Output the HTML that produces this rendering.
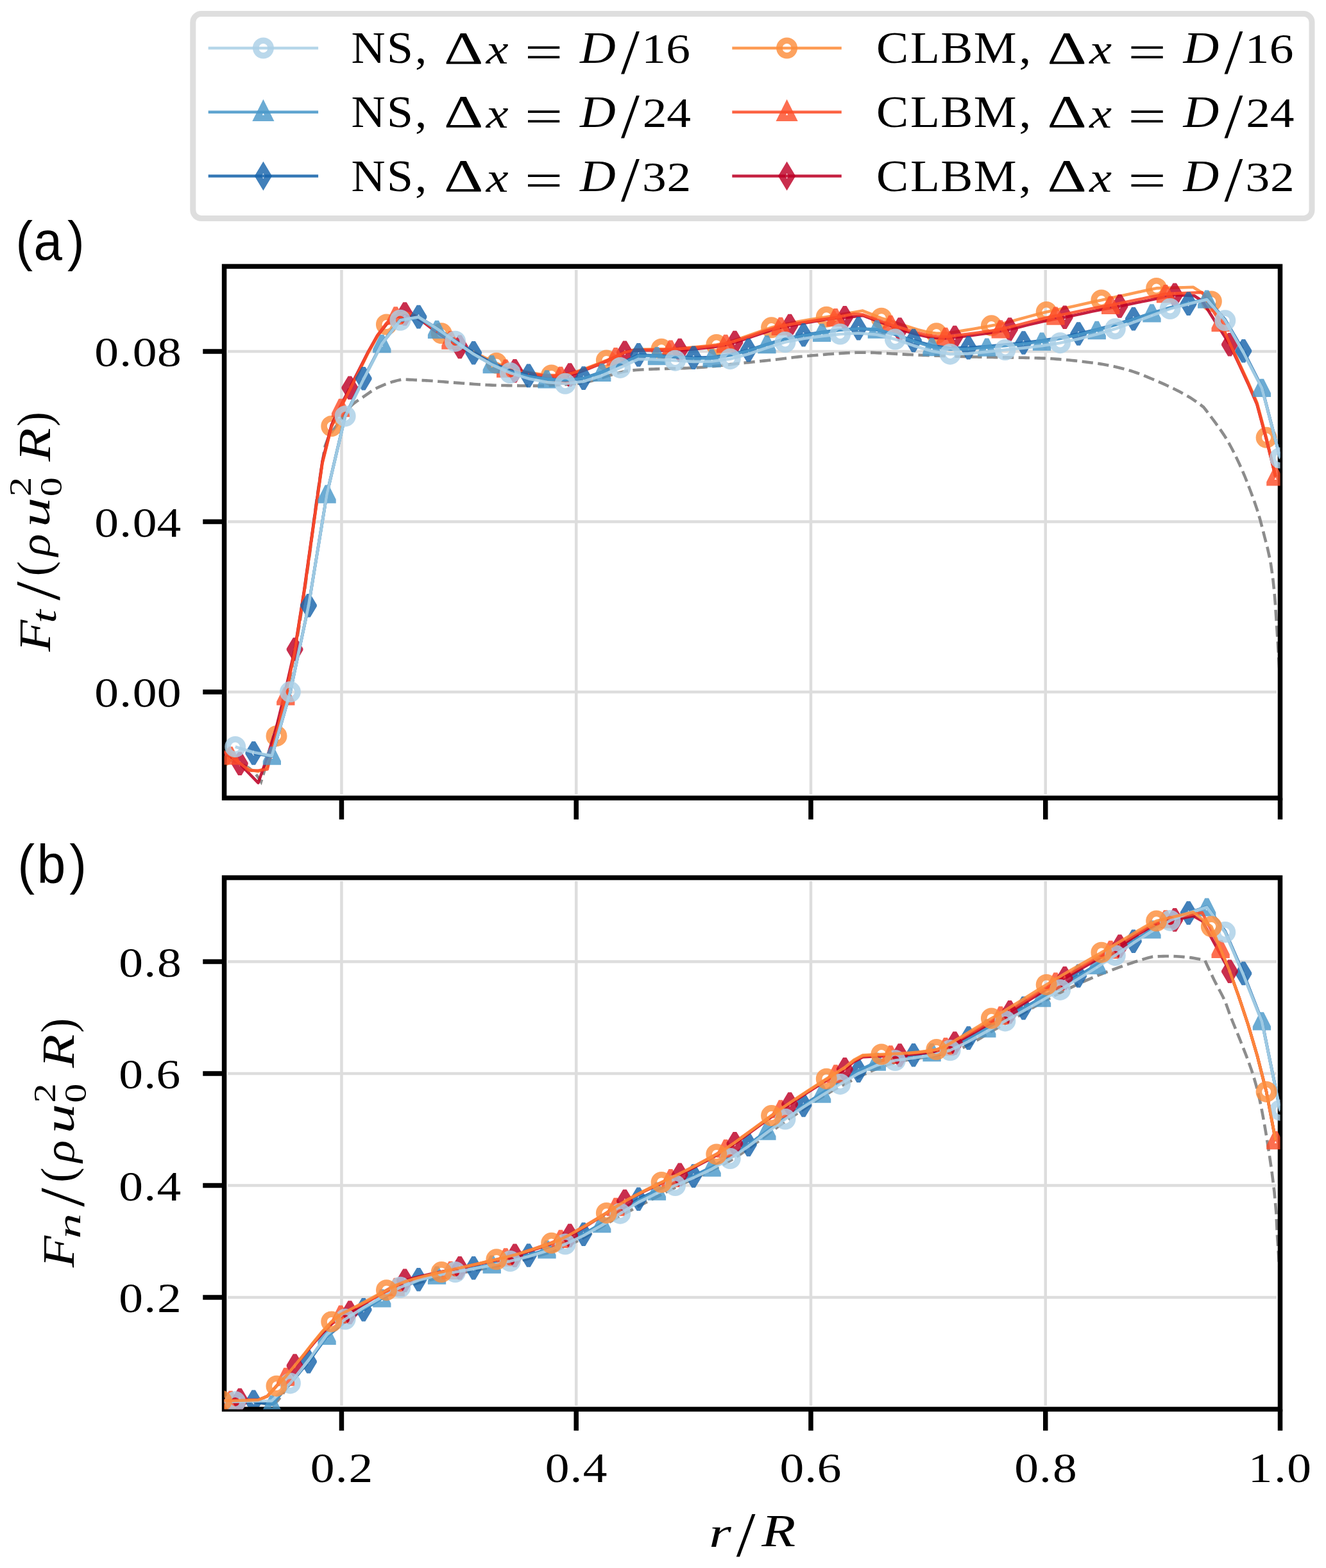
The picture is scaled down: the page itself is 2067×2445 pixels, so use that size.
<!DOCTYPE html>
<html lang="en"><head><meta charset="utf-8"><title>Blade force distributions</title><style>html,body{margin:0;padding:0;background:#fff}svg{display:block}</style></head>
<body>
<svg width="2067" height="2445" viewBox="0 0 2067 2445">
<defs><path id="mo" d="M-16.48 0A16.48 16.48 0 1 0 16.48 0A16.48 16.48 0 1 0 -16.48 0ZM-6.92 0A6.92 6.92 0 1 1 6.92 0A6.92 6.92 0 1 1 -6.92 0Z"/><path id="mt" d="M-2.95 -14.15L2.95 -14.15L14.15 8.25L14.15 14.15L-14.15 14.15L-14.15 8.25ZM0 1.3L-1.65 4.6L1.65 4.6Z"/><path id="md" d="M-2.7 -18.28L2.7 -18.28L12.88 -1.32L12.88 1.32L2.7 18.28L-2.7 18.28L-12.88 1.32L-12.88 -1.32ZM0 -4.22L-2.53 0L0 4.22L2.53 0Z"/><path id="lt" d="M0 -20.05L17.1 14.15L-17.1 14.15ZM0 1.3L-1.65 4.6L1.65 4.6Z"/><path id="ld" d="M0 -22.79L13.67 0L0 22.79L-13.67 0ZM0 -4.22L-2.53 0L0 4.22L2.53 0Z"/><clipPath id="ca"><rect x="349.57" y="415.4" width="1645.93" height="828.95"/></clipPath><clipPath id="cb"><rect x="349.57" y="1368.6" width="1645.93" height="828.8"/></clipPath></defs>
<rect width="2067" height="2445" fill="#fff"/>
<rect x="300.8" y="21.5" width="1744.2" height="319.1" rx="13" ry="13" fill="#fff" stroke="#dedede" stroke-width="9"/>
<path d="M324.7 75.0H496.1" stroke="#abd0e6" stroke-width="4.6" stroke-opacity="0.88"/>
<use href="#mo" x="410.4" y="75" fill="#abd0e6" fill-opacity="0.82" fill-rule="evenodd"/>
<text transform="translate(0 98.25) scale(0.7357 0.6920)" x="744.21 819.51 879.35" y="0" font-family="'Liberation Serif','DejaVu Serif',serif" font-size="100">NS,</text>
<text transform="translate(692.08 98.55) scale(0.9540 0.7252)" font-family="'Liberation Serif','DejaVu Serif',serif" font-size="100">Δ</text>
<text transform="translate(757.78 99.35) scale(0.7843 0.6593)" font-family="'Liberation Serif','DejaVu Serif',serif" font-size="100" font-style="italic">x</text>
<text transform="translate(817.71 106.16) scale(1.0581 0.7320)" font-family="'Liberation Serif','DejaVu Serif',serif" font-size="100">=</text>
<text transform="translate(903.97 98.25) scale(0.7720 0.6870)" font-family="'Liberation Serif','DejaVu Serif',serif" font-size="100" font-style="italic">D</text>
<text transform="translate(967.9 113.86) scale(1.0400 0.9910)" font-family="'Liberation Serif','DejaVu Serif',serif" font-size="100">/</text>
<text transform="translate(0 98.25) scale(0.7550 0.6640)" x="1324.76 1375.18" y="0" font-family="'Liberation Serif','DejaVu Serif',serif" font-size="100">16</text>
<path d="M324.7 174.8H496.1" stroke="#4a98c9" stroke-width="4.6" stroke-opacity="0.88"/>
<use href="#lt" x="410.4" y="174.8" fill="#4a98c9" fill-opacity="0.82" fill-rule="evenodd"/>
<text transform="translate(0 198.05) scale(0.7357 0.6920)" x="744.21 819.51 879.35" y="0" font-family="'Liberation Serif','DejaVu Serif',serif" font-size="100">NS,</text>
<text transform="translate(692.08 198.35) scale(0.9540 0.7252)" font-family="'Liberation Serif','DejaVu Serif',serif" font-size="100">Δ</text>
<text transform="translate(757.78 199.15) scale(0.7843 0.6593)" font-family="'Liberation Serif','DejaVu Serif',serif" font-size="100" font-style="italic">x</text>
<text transform="translate(817.71 205.96) scale(1.0581 0.7320)" font-family="'Liberation Serif','DejaVu Serif',serif" font-size="100">=</text>
<text transform="translate(903.97 198.05) scale(0.7720 0.6870)" font-family="'Liberation Serif','DejaVu Serif',serif" font-size="100" font-style="italic">D</text>
<text transform="translate(967.9 213.66) scale(1.0400 0.9910)" font-family="'Liberation Serif','DejaVu Serif',serif" font-size="100">/</text>
<text transform="translate(0 198.05) scale(0.7550 0.6640)" x="1326.76 1376.41" y="0" font-family="'Liberation Serif','DejaVu Serif',serif" font-size="100">24</text>
<path d="M324.7 274.5H496.1" stroke="#1764ab" stroke-width="4.6" stroke-opacity="0.88"/>
<use href="#ld" x="410.4" y="274.5" fill="#1764ab" fill-opacity="0.82" fill-rule="evenodd"/>
<text transform="translate(0 297.75) scale(0.7357 0.6920)" x="744.21 819.51 879.35" y="0" font-family="'Liberation Serif','DejaVu Serif',serif" font-size="100">NS,</text>
<text transform="translate(692.08 298.05) scale(0.9540 0.7252)" font-family="'Liberation Serif','DejaVu Serif',serif" font-size="100">Δ</text>
<text transform="translate(757.78 298.85) scale(0.7843 0.6593)" font-family="'Liberation Serif','DejaVu Serif',serif" font-size="100" font-style="italic">x</text>
<text transform="translate(817.71 305.66) scale(1.0581 0.7320)" font-family="'Liberation Serif','DejaVu Serif',serif" font-size="100">=</text>
<text transform="translate(903.97 297.75) scale(0.7720 0.6870)" font-family="'Liberation Serif','DejaVu Serif',serif" font-size="100" font-style="italic">D</text>
<text transform="translate(967.9 313.36) scale(1.0400 0.9910)" font-family="'Liberation Serif','DejaVu Serif',serif" font-size="100">/</text>
<text transform="translate(0 297.75) scale(0.7550 0.6640)" x="1325.89 1376.96" y="0" font-family="'Liberation Serif','DejaVu Serif',serif" font-size="100">32</text>
<path d="M1141.3 75.0H1311.8" stroke="#fd8d3c" stroke-width="4.6" stroke-opacity="0.88"/>
<use href="#mo" x="1226.6" y="75" fill="#fd8d3c" fill-opacity="0.82" fill-rule="evenodd"/>
<text transform="translate(0 98.25) scale(0.7522 0.6920)" x="1816.16 1886.54 1949.44 2017.88 2111.75" y="0" font-family="'Liberation Serif','DejaVu Serif',serif" font-size="100">CLBM,</text>
<text transform="translate(1632.58 98.55) scale(0.9540 0.7252)" font-family="'Liberation Serif','DejaVu Serif',serif" font-size="100">Δ</text>
<text transform="translate(1698.28 99.35) scale(0.7843 0.6593)" font-family="'Liberation Serif','DejaVu Serif',serif" font-size="100" font-style="italic">x</text>
<text transform="translate(1758.21 106.16) scale(1.0581 0.7320)" font-family="'Liberation Serif','DejaVu Serif',serif" font-size="100">=</text>
<text transform="translate(1844.47 98.25) scale(0.7720 0.6870)" font-family="'Liberation Serif','DejaVu Serif',serif" font-size="100" font-style="italic">D</text>
<text transform="translate(1908.4 113.86) scale(1.0400 0.9910)" font-family="'Liberation Serif','DejaVu Serif',serif" font-size="100">/</text>
<text transform="translate(0 98.25) scale(0.7550 0.6640)" x="2570.45 2620.87" y="0" font-family="'Liberation Serif','DejaVu Serif',serif" font-size="100">16</text>
<path d="M1141.3 174.8H1311.8" stroke="#fc4e2a" stroke-width="4.6" stroke-opacity="0.88"/>
<use href="#lt" x="1226.6" y="174.8" fill="#fc4e2a" fill-opacity="0.82" fill-rule="evenodd"/>
<text transform="translate(0 198.05) scale(0.7522 0.6920)" x="1816.16 1886.54 1949.44 2017.88 2111.75" y="0" font-family="'Liberation Serif','DejaVu Serif',serif" font-size="100">CLBM,</text>
<text transform="translate(1632.58 198.35) scale(0.9540 0.7252)" font-family="'Liberation Serif','DejaVu Serif',serif" font-size="100">Δ</text>
<text transform="translate(1698.28 199.15) scale(0.7843 0.6593)" font-family="'Liberation Serif','DejaVu Serif',serif" font-size="100" font-style="italic">x</text>
<text transform="translate(1758.21 205.96) scale(1.0581 0.7320)" font-family="'Liberation Serif','DejaVu Serif',serif" font-size="100">=</text>
<text transform="translate(1844.47 198.05) scale(0.7720 0.6870)" font-family="'Liberation Serif','DejaVu Serif',serif" font-size="100" font-style="italic">D</text>
<text transform="translate(1908.4 213.66) scale(1.0400 0.9910)" font-family="'Liberation Serif','DejaVu Serif',serif" font-size="100">/</text>
<text transform="translate(0 198.05) scale(0.7550 0.6640)" x="2572.45 2622.1" y="0" font-family="'Liberation Serif','DejaVu Serif',serif" font-size="100">24</text>
<path d="M1141.3 274.5H1311.8" stroke="#bd0026" stroke-width="4.6" stroke-opacity="0.88"/>
<use href="#ld" x="1226.6" y="274.5" fill="#bd0026" fill-opacity="0.82" fill-rule="evenodd"/>
<text transform="translate(0 297.75) scale(0.7522 0.6920)" x="1816.16 1886.54 1949.44 2017.88 2111.75" y="0" font-family="'Liberation Serif','DejaVu Serif',serif" font-size="100">CLBM,</text>
<text transform="translate(1632.58 298.05) scale(0.9540 0.7252)" font-family="'Liberation Serif','DejaVu Serif',serif" font-size="100">Δ</text>
<text transform="translate(1698.28 298.85) scale(0.7843 0.6593)" font-family="'Liberation Serif','DejaVu Serif',serif" font-size="100" font-style="italic">x</text>
<text transform="translate(1758.21 305.66) scale(1.0581 0.7320)" font-family="'Liberation Serif','DejaVu Serif',serif" font-size="100">=</text>
<text transform="translate(1844.47 297.75) scale(0.7720 0.6870)" font-family="'Liberation Serif','DejaVu Serif',serif" font-size="100" font-style="italic">D</text>
<text transform="translate(1908.4 313.36) scale(1.0400 0.9910)" font-family="'Liberation Serif','DejaVu Serif',serif" font-size="100">/</text>
<text transform="translate(0 297.75) scale(0.7550 0.6640)" x="2571.59 2622.65" y="0" font-family="'Liberation Serif','DejaVu Serif',serif" font-size="100">32</text>
<path d="M532.45 420.9V1238.85M898.22 420.9V1238.85M1263.98 420.9V1238.85M1629.75 420.9V1238.85M355.07 548.12H1990M355.07 813.56H1990M355.07 1079H1990" stroke="#dddddd" stroke-width="4.5" fill="none"/>
<g clip-path="url(#ca)"><path d="M349 1182L353 1183L357 1184.16L361 1185.46L365 1186.88L369 1188.4L373 1190L377 1191.69L381 1193.57L385 1195.76L387 1197L389 1198.39L393 1201.67L397 1205.57L400.8 1209.8L401 1210.04L405 1215.74L407 1219L411 1205.86L412.7 1200L415 1191.65L419 1176.26L423 1160.72L426.6 1147.5L427 1146.11L431 1133.18L435 1121.15L439 1108.9L443 1095.29L444.4 1090L447 1079.34L451 1061.12L455 1041.09L459 1019.68L460.3 1012.5L463 997.03L467 972.57L471 946.56L475 919.32L479 891.19L482 869.7L483 862.34L487 830.82L491 798.89L493 784L495 769.98L499 743.29L503 717.87L503.3 716L506.7 695.6L507 694.67L511 684.35L515 676.97L519 671.26L523 665.93L525 663L527 659.98L531 654.3L535 648.94L538 645L539 643.67L543 638.25L547 633.26L549.2 631L551 629.42L555 626.34L559 623.65L563 621.11L566.2 619L567 618.45L571 615.63L575 612.77L579 610.02L583 607.49L586.6 605.5L587 605.3L591 603.36L595 601.55L599 599.87L603 598.32L607 596.9L611 595.6L612 595.3L615 594.43L619 593.36L623 592.41L626.9 591.6L630.9 591.75L634.9 591.92L638.9 592.09L642.9 592.27L646.9 592.47L650.9 592.67L654.9 592.88L658.9 593.09L662.9 593.32L664.3 593.4L666.9 593.56L670.9 593.81L674.9 594.09L678.9 594.38L682.9 594.69L686.9 595L690.9 595.32L694.9 595.64L698.9 595.96L702.9 596.27L706.9 596.58L710.9 596.87L714.2 597.1L714.9 597.15L718.9 597.43L722.9 597.72L726.9 598.02L730.9 598.32L734.9 598.62L738.9 598.92L742.9 599.21L746.9 599.49L750.9 599.75L754.9 600L758.9 600.22L762.9 600.42L766.9 600.59L770.9 600.72L774 600.8L774.9 600.82L778.9 600.9L782.9 600.99L786.9 601.07L790.9 601.14L794.9 601.21L798.9 601.28L802.9 601.34L806.9 601.4L810.9 601.45L814.9 601.49L818.9 601.53L822.9 601.56L826.9 601.58L830.9 601.6L834.8 601.6L834.9 601.6L838.9 601.58L842.9 601.52L846.9 601.43L850.9 601.31L854.9 601.16L858.9 600.98L862.9 600.77L866.9 600.54L870.9 600.29L874.9 600.02L878.9 599.73L882.9 599.43L886.9 599.11L890.9 598.78L894.9 598.44L898.9 598.1L900 598" fill="none" stroke="#808080" stroke-width="4.6" stroke-dasharray="17.3 7.5" stroke-dashoffset="-7.64" stroke-opacity="0.9" stroke-linejoin="miter"/>
<path d="M900 598L902.9 597.7L906.9 597.15L910.9 596.46L914.9 595.65L918.9 594.72L922.9 593.69L926.9 592.58L930.9 591.42L934.9 590.2L938.9 588.95L942.9 587.69L946.9 586.43L950.9 585.19L954.9 583.97L958.9 582.81L962.9 581.71L966.9 580.7L970.9 579.78L974.9 578.97L978.9 578.3L982.9 577.77L984.5 577.6L986.9 577.38L990.9 577.04L994.9 576.74L998.9 576.47L1002.9 576.23L1006.9 576.02L1009.4 575.9L1010.9 575.83L1014.9 575.66L1018.9 575.5L1022.9 575.35L1026.9 575.22L1030.9 575.1L1034.9 574.99L1038.9 574.88L1042.9 574.78L1046.9 574.67L1050.9 574.57L1054.9 574.46L1058.9 574.35L1062.9 574.23L1066.9 574.11L1070.9 573.97L1074.9 573.82L1078.9 573.65L1082.9 573.47L1084.3 573.4L1086.9 573.26L1090.9 573.01L1094.9 572.73L1098.9 572.41L1102.9 572.07L1106.9 571.69L1110.9 571.3L1114.9 570.88L1118.9 570.44L1122.9 570L1126.9 569.54L1130.9 569.07L1134.9 568.61L1138.9 568.14L1142.9 567.68L1146.9 567.22L1150.9 566.77L1154.9 566.34L1158.9 565.92L1159.1 565.9L1162.9 565.51L1166.9 565.11L1170.9 564.71L1174.9 564.3L1178.9 563.89L1182.9 563.49L1186.9 563.07L1190.9 562.66L1194.9 562.24L1198.9 561.82L1200 561.7L1202.9 561.38L1206.9 560.93L1210.9 560.46L1214.9 559.98L1218.9 559.5L1222.9 559L1226.9 558.51L1230.9 558.02L1234.9 557.54L1238.9 557.06L1242.9 556.6L1246.9 556.16L1250.9 555.74L1254.9 555.35L1258.9 554.98L1262.3 554.7L1262.9 554.65L1266.9 554.33L1270.9 554L1274.9 553.66L1278.9 553.33L1282.9 552.99L1286.9 552.66L1290.9 552.33L1294.9 552.02L1298.9 551.71L1302.9 551.42L1306.9 551.14L1310.9 550.88L1314.9 550.64L1318.9 550.42L1322.9 550.22L1326.9 550.06L1330.9 549.92L1334.9 549.81L1338.9 549.74L1342.9 549.7L1344.6 549.7L1346.9 549.71L1350.9 549.74L1354.9 549.81L1358.9 549.91L1362.9 550.04L1366.9 550.19L1370.9 550.36L1374.9 550.55L1378.9 550.75L1382.9 550.97L1386.9 551.2L1390.9 551.43L1394.9 551.67L1398.9 551.91L1402.9 552.15L1406.9 552.38L1410.9 552.61L1414.9 552.83L1418.9 553.04L1422.9 553.23L1426.9 553.4L1429.4 553.5L1430.9 553.56L1434.9 553.71L1438.9 553.85L1442.9 554L1446.9 554.15L1450.9 554.29L1454.9 554.44L1458.9 554.58L1462.9 554.72L1466.9 554.86L1470.9 554.99L1474.9 555.13L1478.9 555.26" fill="none" stroke="#808080" stroke-width="4.6" stroke-dasharray="17.3 7.5" stroke-dashoffset="-14.62" stroke-opacity="0.9" stroke-linejoin="miter"/>
<path d="M1482.9 555.39L1486.9 555.52L1490.9 555.65L1494.9 555.77L1498.9 555.89L1502.9 556.01L1506.9 556.12L1510.9 556.23L1514.9 556.34L1518.9 556.45L1522.9 556.55L1526.9 556.65L1529.2 556.7L1530.9 556.74L1534.9 556.83L1538.9 556.91L1542.9 556.98L1546.9 557.05L1550.9 557.12L1554.9 557.18L1558.9 557.24L1562.9 557.3L1566.9 557.35L1570.9 557.41L1574.9 557.47L1578.9 557.53L1582.9 557.59L1586.9 557.65L1590.9 557.72L1594.9 557.79L1598.9 557.87L1602.9 557.95L1606.9 558.04L1610.9 558.14L1614.9 558.25L1618.9 558.37L1620 558.4L1622.9 558.5L1626.9 558.66L1630.9 558.84L1634.9 559.06L1638.9 559.29L1642.9 559.55L1646.9 559.84L1650.9 560.14L1654.9 560.47L1658.9 560.82L1662.9 561.19L1666.9 561.57L1670.9 561.97L1674.9 562.39L1678.9 562.82L1682.9 563.27L1686.9 563.73L1690.9 564.2L1694.9 564.68L1698.9 565.17L1702.9 565.67L1704.7 565.9L1706.9 566.19L1710.9 566.75L1714.9 567.37L1718.9 568.04L1722.9 568.75L1726.9 569.51L1730.9 570.32L1734.9 571.17L1738.9 572.06L1742.9 572.98L1746.9 573.95L1750.9 574.95L1754.6 575.9L1754.9 575.98L1758.9 577.09L1762.9 578.29L1766.9 579.59L1770.9 580.98L1774.9 582.43L1778.9 583.96L1782.9 585.53L1786.9 587.15L1790.9 588.81L1794.9 590.5L1798.9 592.2L1802.9 593.91L1804.5 594.6L1806.9 595.63L1810.9 597.38L1814.9 599.16L1818.9 600.98L1822.9 602.84L1826.9 604.75L1830.9 606.71L1834.9 608.73L1838.9 610.81L1842.9 612.95L1846.9 615.16L1850.9 617.44L1854.4 619.5L1854.9 619.8L1858.9 622.32L1862.9 625.02L1866.9 627.87L1870.9 630.83L1874.9 633.86L1876 634.7L1880 639.77L1884 644.95L1888 650.28L1890 653L1892 655.73L1896 661.18L1900 666.69L1904 672.39L1908 678.36L1912 684.73L1913 686.4L1916 691.6L1920 698.96L1924 706.77L1928 714.99L1932 723.55L1936 732.4L1940 741.76L1944 751.75L1948 762.2L1949.8 767L1952 772.91L1956 783.95L1960 795.85L1961.3 800L1964 809.24L1968 824.26L1970.9 835.7L1972 840L1976 855.4L1980 873.78L1980.8 878.2L1984 900.31L1986.5 923.5L1988 942.67L1989.9 971.7L1992 1004.39L1995.3 1060" fill="none" stroke="#808080" stroke-width="4.6" stroke-dasharray="17.3 7.5" stroke-dashoffset="-5.63" stroke-opacity="0.9" stroke-linejoin="miter"/>
<path d="M345.28 1180L345.28 1180L345.3 1180L359.57 1182L359.57 1182L359.6 1182L373.86 1189.98L373.86 1189.98L373.9 1190L388.15 1199.96L388.2 1200L402.43 1202.99L402.5 1203L416.72 1196.04L416.8 1196L431 1147.7L431.01 1147.7L445.3 1082.9L445.3 1082.9L459.59 1012.5L473.87 923.18L473.9 923L488.16 821.78L488.2 821.5L502.45 721.26L502.5 721L516.74 664.5L516.74 664.5L531.02 635.3L545.31 607.35L545.31 607.35L559.6 579.08L573.89 550.35L588.18 524.79L602.46 506L616.75 494.76L631.04 488.97L645.33 492.1L659.61 500.16L673.9 510.34L688.19 519.8L702.48 528.65L702.48 528.65L716.76 537.2L731.05 545.03L745.34 552.52L759.63 559.62L773.92 566.3L773.92 566.3L788.2 572.4L802.49 576.26L816.78 579.2L831.07 581.9L845.35 583.96L859.64 585L873.93 585.1L888.22 582.17L902.51 578.13L916.79 573.24L931.08 567.77L945.37 562L945.37 562L959.66 555.48L973.94 548.92L973.94 548.92L988.23 545.39L990 545.25L1002.52 544.78L1016.81 544.46L1031.09 544.2L1031.09 544.2L1045.38 544.01L1059.67 543.17L1073.96 542.08L1088.25 540.8L1102.53 539.28L1116.82 537.5L1131.11 534.76L1145.4 530.52L1159.68 525.75L1173.97 520.64L1188.26 515.55L1202.55 510.8L1202.55 510.8L1216.84 506.76L1231.12 503.88L1245.41 501.28L1259.7 498.81L1273.99 496.45L1288.27 494.2L1288.3 494.2L1302.56 491.78L1316.85 489.36L1331.14 486.93L1344.9 484.6L1345.43 484.81L1359.71 490.5L1374 496.2L1374 496.2L1388.29 500.38L1388.29 500.38L1402.58 505.33L1402.58 505.33L1416.86 509.79L1431.15 514.12L1445.44 517.68L1459.73 519.8L1474.01 519.9L1488.3 517.69L1502.59 515.36L1516.88 512.96L1531.17 510.45L1545.45 507.8L1559.74 505.14L1574.03 501.63L1588.32 497.84L1602.6 493.88L1616.89 489.99L1631.18 486.4L1645.47 483.4L1645.47 483.4L1659.76 480.54L1659.76 480.54L1674.04 477.42L1688.33 474.14L1702.62 470.89L1716.9 467.9L1716.91 467.9L1731.19 464.81L1745.48 461.73L1759.77 458.65L1774.06 455.56L1788.34 452.48L1802.6 449.4L1802.63 449.4L1816.92 449L1816.92 449L1831.21 448.6L1845.5 448.2L1859.78 447.8L1859.9 447.8L1874.07 456.77L1875.7 457.8L1888.3 469.9L1888.36 469.9L1888.36 469.9L1902.65 502.82L1916.93 534.56L1931.22 564.88L1945.2 594.89L1945.51 595.58L1959 626.76L1959.8 629.08L1974.09 682.3L1988.36 743.3" fill="none" stroke="#fd8d3c" stroke-width="4.6" stroke-opacity="0.88" stroke-linejoin="round"/>
<g fill="#fd8d3c" fill-opacity="0.82" fill-rule="evenodd"><use href="#mo" x="345.28" y="1180"/><use href="#mo" x="431.01" y="1147.7"/><use href="#mo" x="516.74" y="664.5"/><use href="#mo" x="602.46" y="506"/><use href="#mo" x="688.19" y="519.8"/><use href="#mo" x="773.92" y="566.3"/><use href="#mo" x="859.64" y="585"/><use href="#mo" x="945.37" y="562"/><use href="#mo" x="1031.09" y="544.2"/><use href="#mo" x="1116.82" y="537.5"/><use href="#mo" x="1202.55" y="510.8"/><use href="#mo" x="1288.27" y="494.2"/><use href="#mo" x="1374" y="496.2"/><use href="#mo" x="1459.73" y="519.8"/><use href="#mo" x="1545.45" y="507.8"/><use href="#mo" x="1631.18" y="486.4"/><use href="#mo" x="1716.91" y="467.9"/><use href="#mo" x="1802.63" y="449.4"/><use href="#mo" x="1888.36" y="469.9"/><use href="#mo" x="1974.09" y="682.3"/></g></g>
<path d="M532.45 1244.35v33.3M898.22 1244.35v33.3M1263.98 1244.35v33.3M1629.75 1244.35v33.3M1995.52 1244.35v33.3M349.57 548.12h-33.3M349.57 813.56h-33.3M349.57 1079h-33.3" stroke="#000" stroke-width="7.5" fill="none"/>
<rect x="349.57" y="415.4" width="1645.93" height="828.95" fill="none" stroke="#000" stroke-width="7.5"/>
<g clip-path="url(#ca)"><path d="M345.3 1172L359.57 1179.98L359.57 1179.98L359.6 1180L373.86 1190.77L373.86 1190.77L373.9 1190.8L388.15 1205.94L388.2 1206L402.43 1220.63L402.5 1220.7L416.72 1180.22L416.8 1180L431.01 1133.3L431.1 1133L445.3 1075.01L445.3 1075.01L445.3 1075L459.59 1012.56L459.6 1012.5L473.87 922.74L473.9 922.56L488.16 820.89L488.2 820.62L502.45 719.94L502.5 719.67L516.74 662.73L516.74 662.73L531.02 633.09L545.31 604.7L545.31 604.7L559.6 576.87L573.89 548.58L588.18 523.46L602.46 505.12L616.75 494.58L631.04 489.5L645.33 493.28L659.61 501.98L673.9 512.8L688.19 522.9L702.48 532.05L702.48 532.05L716.76 540.9L731.05 548.5L745.34 555.77L759.63 562.64L773.92 569.09L773.92 569.09L788.2 574.87L802.49 578.4L816.78 581.32L831.07 583.99L845.35 586.03L859.64 587.05L873.93 587.34L888.22 584.6L902.51 580.28L916.79 575.1L931.08 569.35L945.37 563.31L945.37 563.31L959.66 556.53L973.94 549.7L973.94 549.7L988.23 546.53L990 546.44L1002.52 546.28L1016.81 546.32L1031.09 546.42L1031.09 546.42L1045.38 546.53L1059.67 546L1073.96 544.95L1088.25 543.69L1102.53 542.21L1116.82 540.47L1131.11 537.98L1145.4 534L1159.68 529.39L1173.97 524.45L1188.26 519.51L1202.55 514.92L1202.55 514.92L1216.84 510.88L1231.12 508L1245.41 505.33L1259.7 502.78L1273.99 500.36L1288.27 498.04L1302.56 495.89L1316.85 495.4L1316.9 495.4L1331.14 493.68L1345 492L1345.43 492.16L1359.71 497.49L1374 502.82L1388.29 508.16L1388.29 508.16L1402.58 513.49L1402.58 513.49L1402.6 513.5L1416.86 517.72L1431.15 521.8L1445.44 525.11L1459.73 526.99L1474.01 527.65L1488.3 526L1502.59 524.36L1516.88 522.64L1531.17 520.82L1545.45 518.86L1559.74 516.6L1574.03 513.5L1588.32 510.15L1602.6 506.62L1616.89 503.16L1631.18 500.01L1645.47 497.33L1645.47 497.33L1659.76 494.8L1659.76 494.8L1674.04 491.8L1688.33 488.63L1702.62 485.51L1716.91 482.63L1731.19 480.15L1745.4 477.4L1745.48 477.38L1759.77 474.47L1774.06 471.56L1788.34 468.64L1802.63 465.73L1816.92 462.81L1816.92 462.81L1831.2 459.9L1831.21 459.9L1845.5 460.56L1859.78 461.21L1861.7 461.3L1874 469.2L1874.07 469.31L1888.36 491.96L1888.36 491.96L1902.65 514.61L1916.9 537.2L1916.93 537.2L1931.22 567.63L1945.2 597.74L1945.51 598.43L1959 629.71L1959.8 632.04L1974.09 685.36L1988.36 743.3" fill="none" stroke="#bd0026" stroke-width="4.6" stroke-opacity="0.88" stroke-linejoin="round"/>
<g fill="#bd0026" fill-opacity="0.82" fill-rule="evenodd"><use href="#md" x="373.86" y="1190.8"/><use href="#md" x="459.59" y="1012.5"/><use href="#md" x="545.31" y="604.7"/><use href="#md" x="631.04" y="489.5"/><use href="#md" x="716.76" y="540.9"/><use href="#md" x="802.49" y="578.4"/><use href="#md" x="888.22" y="584.6"/><use href="#md" x="973.94" y="549.7"/><use href="#md" x="1059.67" y="546"/><use href="#md" x="1145.4" y="534"/><use href="#md" x="1231.12" y="508"/><use href="#md" x="1316.85" y="495.4"/><use href="#md" x="1402.58" y="513.5"/><use href="#md" x="1488.3" y="526"/><use href="#md" x="1574.03" y="513.5"/><use href="#md" x="1659.76" y="494.8"/><use href="#md" x="1745.48" y="477.4"/><use href="#md" x="1831.21" y="459.9"/><use href="#md" x="1916.93" y="537.2"/></g>
<path d="M345.3 1170L359.57 1178.38L359.57 1178.38L359.6 1178.4L373.86 1189.97L373.86 1189.97L373.9 1190L388.15 1201.46L388.2 1201.5L402.43 1201.5L402.5 1201.5L416.72 1199.51L416.8 1199.5L431.01 1143.36L431.1 1143L445.3 1085.71L445.3 1085.71L445.3 1085.7L459.59 1014.95L473.87 925.28L473.9 925.1L488.16 823.53L488.2 823.25L502.45 722.66L502.5 722.4L516.74 665.55L516.74 665.55L531.02 636L545.31 607.48L545.31 607.48L559.6 578.63L573.89 549.34L588.18 523.2L602.46 503.85L616.75 492.3L631.04 487.28L645.33 491.19L659.61 500.03L673.9 510.98L688.19 521.22L702.48 530.5L702.48 530.5L716.76 539.14L731.05 547.06L745.34 554.64L759.63 561.84L773.92 568.61L773.92 568.61L788.2 574.7L802.49 578.27L816.78 580.93L831.07 583.34L845.35 585.12L859.64 585.87L873.93 585.9L888.22 582.95L902.51 578.89L916.79 573.98L931.08 568.5L945.37 562.71L945.37 562.71L959.66 556.2L973.94 549.64L973.94 549.64L988.23 546.12L990 545.98L1002.52 545.51L1016.81 545.19L1031.09 544.94L1031.09 544.94L1045.38 544.7L1059.67 543.92L1073.96 542.88L1088.25 541.65L1102.53 540.19L1116.82 538.46L1131.11 536L1145.4 531.92L1159.68 527.31L1173.97 522.36L1188.26 517.43L1202.55 512.84L1202.55 512.84L1216.84 508.8L1231.12 506.08L1245.41 503.63L1259.7 501.32L1273.99 499.12L1288.27 497.03L1302.5 495.1L1302.56 495.09L1316.85 492.28L1331 489.5L1331.14 489.51L1345 490.5L1345.43 490.65L1359.71 495.78L1374 500.91L1388.2 506L1388.29 506L1388.29 506L1402.58 510.73L1402.58 510.73L1416.86 514.97L1431.15 519.08L1445.44 522.42L1459.73 524.32L1474.01 525L1488.3 523.35L1502.59 521.58L1516.88 519.73L1531.17 517.78L1545.45 515.69L1559.74 513.3L1574.03 509.98L1588.32 506.39L1602.6 502.62L1616.89 498.92L1631.18 495.52L1645.47 492.6L1645.47 492.6L1659.76 489.98L1659.76 489.98L1674.04 487.1L1688.33 484.04L1702.62 481.03L1716.91 478.27L1731.19 475.9L1731.2 475.9L1745.48 472.95L1759.77 470L1774.06 467.05L1788.34 464.1L1802.63 461.15L1816.9 458.2L1816.92 458.2L1816.92 458.2L1831.21 457.65L1845.5 457.1L1859.78 456.55L1874 456L1874.07 456.12L1888.36 480.18L1888.36 480.18L1893.3 488.5L1902.6 503L1902.65 503L1916.93 535.22L1931.22 566.04L1945.2 596.53L1945.51 597.22L1959 628.87L1959.8 631.22L1974.09 684.92L1988.36 743.24L1988.37 743.3" fill="none" stroke="#fc4e2a" stroke-width="4.6" stroke-opacity="0.88" stroke-linejoin="round"/>
<g fill="#fc4e2a" fill-opacity="0.82" fill-rule="evenodd"><use href="#mt" x="359.57" y="1178.4"/><use href="#mt" x="445.3" y="1085.7"/><use href="#mt" x="531.02" y="636"/><use href="#mt" x="616.75" y="492.3"/><use href="#mt" x="702.48" y="530.5"/><use href="#mt" x="788.2" y="574.7"/><use href="#mt" x="873.93" y="585.9"/><use href="#mt" x="959.66" y="556.2"/><use href="#mt" x="1045.38" y="544.7"/><use href="#mt" x="1131.11" y="536"/><use href="#mt" x="1216.84" y="508.8"/><use href="#mt" x="1302.56" y="495.1"/><use href="#mt" x="1388.29" y="506"/><use href="#mt" x="1474.01" y="525"/><use href="#mt" x="1559.74" y="513.3"/><use href="#mt" x="1645.47" y="492.6"/><use href="#mt" x="1731.19" y="475.9"/><use href="#mt" x="1816.92" y="458.2"/><use href="#mt" x="1902.65" y="503"/><use href="#mt" x="1988.37" y="743.3"/></g>
<path d="M395.29 1174.4L395.29 1174.4L423.87 1179.47L423.87 1179.47L452.44 1079.28L481.02 944.3L509.59 770.12L538.17 648.15L538.17 648.15L566.74 590.2L566.74 590.2L595.32 535.25L595.32 535.25L623.89 498.93L623.89 498.93L652.47 494.1L652.47 494.1L681.05 511.93L681.05 511.93L709.62 531.48L738.2 550.2L766.77 565.77L795.35 577.74L795.35 577.74L823.92 585.9L852.5 590.94L881.07 592.83L881.07 592.83L909.65 589.6L938.22 580.13L966.8 567.42L966.8 567.42L995.38 553.4L1023.95 554.42L1052.53 556.13L1052.53 556.13L1081.1 557.7L1109.68 557.07L1138.25 553.09L1166.83 546L1166.83 546L1195.4 536.76L1223.98 528.27L1223.98 528.27L1252.55 522.3L1281.13 517.83L1309.71 514.23L1309.71 514.23L1338.28 512.3L1338.28 512.3L1366.86 514.41L1366.86 514.41L1395.43 521.59L1424.01 531L1452.58 538.81L1481.16 542.7L1481.16 542.7L1509.73 542.2L1538.31 540.03L1538.31 540.03L1566.88 537.46L1595.46 534.5L1624.04 531.07L1624.04 531.07L1652.61 526.5L1681.19 520.5L1709.76 513.83L1738.34 505.98L1738.34 505.98L1766.91 497.3L1766.91 497.3L1795.49 488.55L1795.49 488.55L1824.06 480.01L1852.64 473.6L1881.22 466.15L1909.79 498.3L1909.79 498.3L1938.37 547.2L1966.94 603.53L1995.5 714" fill="none" stroke="#1764ab" stroke-width="4.6" stroke-opacity="0.88" stroke-linejoin="round"/>
<g fill="#1764ab" fill-opacity="0.82" fill-rule="evenodd"><use href="#md" x="395.29" y="1174.4"/><use href="#md" x="481.02" y="944.3"/><use href="#md" x="566.74" y="590.2"/><use href="#md" x="652.47" y="494.1"/><use href="#md" x="738.2" y="550.2"/><use href="#md" x="823.92" y="585.9"/><use href="#md" x="909.65" y="589.6"/><use href="#md" x="995.38" y="553.4"/><use href="#md" x="1081.1" y="557.7"/><use href="#md" x="1166.83" y="546"/><use href="#md" x="1252.55" y="522.3"/><use href="#md" x="1338.28" y="512.3"/><use href="#md" x="1424.01" y="531"/><use href="#md" x="1509.73" y="542.2"/><use href="#md" x="1595.46" y="534.5"/><use href="#md" x="1681.19" y="520.5"/><use href="#md" x="1766.91" y="497.3"/><use href="#md" x="1852.64" y="473.6"/><use href="#md" x="1938.37" y="547.2"/></g>
<path d="M423.87 1178.5L423.87 1178.5L452.44 1078.8L481.02 944.3L509.59 770.5L538.17 648.9L538.17 648.9L566.74 591.33L566.74 591.32L595.32 536L595.32 536L623.89 499.87L623.89 499.87L652.47 495.23L652.47 495.23L681.05 513.8L681.05 513.8L709.62 533.57L738.2 552.52L766.77 568.2L795.35 579.56L795.35 579.56L823.92 587.12L852.5 591.4L881.07 593.14L881.07 593.14L909.65 589.76L938.22 580.9L966.8 568.46L966.8 568.46L995.38 554.71L1023.95 555.2L1052.53 557.16L1052.53 557.16L1081.1 558.97L1109.68 558.7L1138.25 554.23L1166.83 546.64L1166.83 546.64L1195.4 537.2L1223.98 528.9L1223.98 528.9L1252.55 523.11L1281.13 518.8L1309.71 514.68L1309.71 514.68L1338.28 512.22L1338.28 512.22L1366.86 513.5L1366.86 513.5L1395.43 521.62L1424.01 531.97L1452.58 541L1481.16 544.78L1481.16 544.78L1509.73 544.17L1538.31 541.7L1538.31 541.7L1566.88 539.14L1595.46 536.19L1624.04 532.7L1624.04 532.7L1652.61 528.07L1681.19 522.01L1709.76 515L1738.34 506.8L1738.34 506.8L1766.91 497.79L1766.91 497.79L1795.49 488.3L1795.49 488.3L1824.06 479.39L1852.64 472.6L1881.22 466.6L1909.79 499.8L1909.79 499.8L1938.37 549.75L1966.94 604.8L1995.5 714" fill="none" stroke="#4a98c9" stroke-width="4.6" stroke-opacity="0.88" stroke-linejoin="round"/>
<g fill="#4a98c9" fill-opacity="0.82" fill-rule="evenodd"><use href="#mt" x="423.87" y="1178.5"/><use href="#mt" x="509.59" y="770.5"/><use href="#mt" x="595.32" y="536"/><use href="#mt" x="681.05" y="513.8"/><use href="#mt" x="766.77" y="568.2"/><use href="#mt" x="852.5" y="591.4"/><use href="#mt" x="938.22" y="580.9"/><use href="#mt" x="1023.95" y="555.2"/><use href="#mt" x="1109.68" y="558.7"/><use href="#mt" x="1195.4" y="537.2"/><use href="#mt" x="1281.13" y="518.8"/><use href="#mt" x="1366.86" y="513.5"/><use href="#mt" x="1452.58" y="541"/><use href="#mt" x="1538.31" y="541.7"/><use href="#mt" x="1624.04" y="532.7"/><use href="#mt" x="1709.76" y="515"/><use href="#mt" x="1795.49" y="488.3"/><use href="#mt" x="1881.22" y="466.6"/><use href="#mt" x="1966.94" y="604.8"/></g>
<path d="M366.72 1164.5L366.72 1164.5L395.29 1173.22L395.29 1173.22L423.87 1178.63L423.87 1178.63L452.44 1078.8L481.02 944.3L509.59 770.5L538.17 648.9L538.17 648.9L566.74 591.33L566.74 591.32L595.32 536L595.32 536L623.89 499.3L623.89 499.3L652.47 494.23L652.47 494.23L681.05 512.36L681.05 512.36L709.62 532.2L738.2 552.05L766.77 568.63L795.35 581.6L795.35 581.6L823.92 590.4L852.5 595.92L881.07 598.3L881.07 598.3L909.65 594.74L938.22 585.69L966.8 573.4L966.8 573.4L995.38 559.95L1023.95 560.73L1052.53 562.2L1052.53 562.2L1081.1 563.87L1109.68 563.45L1138.25 559.7L1166.83 551.95L1166.83 551.95L1195.4 542.35L1223.98 533.5L1223.98 533.5L1252.55 528.06L1281.13 524.1L1309.71 521L1309.71 521L1338.28 519.49L1338.28 519.49L1366.86 521.71L1366.86 521.71L1395.43 529L1424.01 538.93L1452.58 547.53L1481.16 552.2L1481.16 552.2L1509.73 551.34L1538.31 548.62L1538.31 548.62L1566.88 545.5L1595.46 542.64L1624.04 539.24L1624.04 539.24L1652.61 534.7L1681.19 528.43L1709.76 521.21L1738.34 512.8L1738.34 512.8L1766.91 502.65L1766.91 502.65L1795.49 492.02L1795.49 492.02L1824.06 481.6L1852.64 473.95L1881.22 467.07L1909.79 499.8L1909.79 499.8L1938.37 549.75L1966.94 604.8L1995.5 714L1995.52 714" fill="none" stroke="#abd0e6" stroke-width="4.6" stroke-opacity="0.88" stroke-linejoin="round"/>
<g fill="#abd0e6" fill-opacity="0.82" fill-rule="evenodd"><use href="#mo" x="366.72" y="1164.5"/><use href="#mo" x="452.44" y="1078.8"/><use href="#mo" x="538.17" y="648.9"/><use href="#mo" x="623.89" y="499.3"/><use href="#mo" x="709.62" y="532.2"/><use href="#mo" x="795.35" y="581.6"/><use href="#mo" x="881.07" y="598.3"/><use href="#mo" x="966.8" y="573.4"/><use href="#mo" x="1052.53" y="562.2"/><use href="#mo" x="1138.25" y="559.7"/><use href="#mo" x="1223.98" y="533.5"/><use href="#mo" x="1309.71" y="521"/><use href="#mo" x="1395.43" y="529"/><use href="#mo" x="1481.16" y="552.2"/><use href="#mo" x="1566.88" y="545.5"/><use href="#mo" x="1652.61" y="534.7"/><use href="#mo" x="1738.34" y="512.8"/><use href="#mo" x="1824.06" y="481.6"/><use href="#mo" x="1909.79" y="499.8"/><use href="#mo" x="1995.52" y="714"/></g></g>
<path d="M532.45 1374.1V2191.9M898.22 1374.1V2191.9M1263.98 1374.1V2191.9M1629.75 1374.1V2191.9M355.07 1499.4H1990M355.07 1673.9H1990M355.07 1848.4H1990M355.07 2022.9H1990" stroke="#dddddd" stroke-width="4.5" fill="none"/>
<g clip-path="url(#cb)"><path d="M349 2186L353 2186.01L357 2186.04L361 2186.08L365 2186.15L369 2186.22L373 2186.31L377 2186.42L381 2186.53L385 2186.66L389 2186.79L393 2186.93L395 2187L397 2187.1L401 2187.42L405 2187.85L409 2188.33L413 2188.8L417 2189.19L421 2189.44L423.8 2189.5L425 2189.39L429 2187.56L433 2183.88L437 2178.88L441 2173.09L445 2167.03L449 2161.23L452.4 2156.9L453 2156.21L457 2151.61L461 2147.04L465 2142.46L469 2137.83L473 2133.1L477 2128.24L481 2123.2L485 2117.77L489 2111.91L493 2105.83L497 2099.73L501 2093.83L505 2088.34L509 2083.46L509.5 2082.9L513 2079.12L517 2074.99L521 2071.08L525 2067.39L529 2063.96L533 2060.79L537 2057.91L538.2 2057.1L541 2055.33L545 2053.06L549 2051L553 2049.07L557 2047.17L561 2045.23L565 2043.15L566.7 2042.2L569 2040.86L573 2038.4L577 2035.83L581 2033.21L585 2030.59L589 2028.03L593 2025.58L595.2 2024.3L597 2023.27L601 2020.96L605 2018.65L609 2016.4L613 2014.25L617 2012.26L621 2010.48L624 2009.3L625 2008.94L629 2007.52L633 2006.16L637 2004.87L641 2003.63L645 2002.44L649 2001.29L653 2000.2L657 1999.14L661 1998.11L665 1997.12L669 1996.16L673 1995.22L677 1994.3L681 1993.4L685 1992.51L689 1991.63L693 1990.75L697 1989.88L701 1989L705 1988.12L709 1987.23L710 1987L713 1986.33L717 1985.47L721 1984.64L725 1983.83L729 1983.04L733 1982.27L737 1981.51L741 1980.77L745 1980.03L749 1979.3L753 1978.57L757 1977.83L761 1977.09L765 1976.33L769 1975.57L773 1974.78L777 1973.98L781 1973.15L785 1972.29L789 1971.4L793 1970.48L795 1970L797 1969.52L801 1968.54L805 1967.55L809 1966.54L813 1965.52L817 1964.48L821 1963.41L825 1962.33L829 1961.22L833 1960.08L837 1958.92L841 1957.74L845 1956.52L849 1955.27L853 1953.99L857 1952.67L861 1951.33L865 1949.94L869 1948.52L873 1947.05L877 1945.55L881 1944L885 1942.37L889 1940.61L893 1938.75L897 1936.78L901 1934.72L905 1932.57L909 1930.36L913 1928.08L917 1925.74L921 1923.36L925 1920.95L929 1918.52L933 1916.06L937 1913.61L941 1911.16L945 1908.72L949 1906.3L953 1903.92L957 1901.59L961 1899.3L965 1897.08L967 1896L969 1894.93L973 1892.79L977 1890.66L981 1888.53L985 1886.42L989 1884.31L993 1882.21L997 1880.12L1001 1878.04L1005 1875.96L1009 1873.89L1013 1871.83L1017 1869.77L1021 1867.72L1025 1865.67L1029 1863.63L1033 1861.6L1037 1859.57L1041 1857.54L1045 1855.52L1049 1853.51L1052 1852L1053 1851.5L1057 1849.52L1061 1847.58L1065 1845.67L1069 1843.78L1073 1841.92L1077 1840.08L1081 1838.24L1085 1836.41L1089 1834.58L1093 1832.74L1097 1830.89L1101 1829.02L1105 1827.13L1109 1825.22L1113 1823.27L1117 1821.28L1121 1819.25L1125 1817.17L1129 1815.03L1133 1812.84L1137 1810.58L1138 1810L1141 1808.23L1145 1805.79L1149 1803.25L1153 1800.62L1157 1797.91L1161 1795.14L1165 1792.3L1169 1789.41L1173 1786.48L1177 1783.51L1181 1780.51L1185 1777.5L1189 1774.48L1193 1771.46L1197 1768.45L1201 1765.45L1205 1762.48L1209 1759.55L1213 1756.66L1217 1753.82L1221 1751.04L1224 1749L1225 1748.33L1229 1745.62L1233 1742.9L1237 1740.17L1241 1737.44L1245 1734.7L1249 1731.97L1253 1729.24L1257 1726.53L1261 1723.84L1265 1721.16L1269 1718.52L1273 1715.9L1277 1713.32L1281 1710.78L1285 1708.29L1289 1705.84L1293 1703.45L1297 1701.12L1301 1698.85L1305 1696.65L1309 1694.52L1310 1694L1313 1692.45L1317 1690.37L1321 1688.31L1325 1686.25L1329 1684.21L1333 1682.19L1337 1680.19L1341 1678.22L1345 1676.29L1349 1674.39L1353 1672.54L1357 1670.74L1361 1668.99L1365 1667.3L1369 1665.68L1373 1664.12L1377 1662.64L1381 1661.23L1385 1659.91L1389 1658.68L1393 1657.53L1395 1657L1397 1656.49L1401 1655.53L1405 1654.65L1409 1653.83L1413 1653.07L1417 1652.37L1421 1651.7L1425 1651.07L1429 1650.46L1433 1649.87L1437 1649.29L1441 1648.71L1445 1648.12L1449 1647.51L1453 1646.88L1457 1646.21L1461 1645.5L1465 1644.73L1469 1643.91L1473 1643.02L1477 1642.05L1481 1641L1485 1639.82L1489 1638.47L1493 1636.96L1497 1635.32L1501 1633.54L1505 1631.65L1509 1629.65L1513 1627.55L1517 1625.38L1521 1623.13L1525 1620.82L1529 1618.47L1533 1616.08L1537 1613.66L1541 1611.24L1545 1608.81L1549 1606.4L1553 1604.01L1557 1601.65L1561 1599.35L1565 1597.1L1567 1596L1569 1594.91L1573 1592.69L1577 1590.44L1581 1588.17L1585 1585.87L1589 1583.55L1593 1581.22L1597 1578.88L1601 1576.54L1605 1574.2L1609 1571.86L1613 1569.54L1617 1567.24L1621 1564.95L1625 1562.69L1629 1560.47L1633 1558.28L1637 1556.13" fill="none" stroke="#808080" stroke-width="4.6" stroke-dasharray="17.3 7.5" stroke-dashoffset="0" stroke-opacity="0.9" stroke-linejoin="miter"/>
<path d="M1641 1554.02L1642.4 1553.3L1645 1551.97L1649 1549.93L1653 1547.91L1657 1545.92L1661 1543.94L1665 1541.99L1669 1540.06L1673 1538.15L1677 1536.27L1681 1534.41L1685 1532.57L1689 1530.76L1693 1528.97L1697 1527.21L1700 1525.9L1701 1525.47L1705 1523.76L1709 1522.08L1713 1520.43L1717 1518.81L1721 1517.22L1725 1515.65L1729 1514.11L1733 1512.59L1735.1 1511.8L1737 1511.09L1741 1509.62L1745 1508.16L1749 1506.73L1753 1505.32L1757 1503.94L1761 1502.57L1765 1501.24L1769 1499.92L1770.3 1499.5L1773 1498.63L1777 1497.35L1781 1496.1L1785 1494.9L1789 1493.77L1790 1493.5L1793 1492.74L1797 1491.8L1801 1491.54L1805 1491.33L1809 1491.19L1813 1491.09L1817 1491.03L1821 1491L1823 1491L1825 1491.01L1829 1491.11L1833 1491.28L1837 1491.52L1841 1491.81L1845 1492.13L1849 1492.47L1849.4 1492.5L1853 1492.86L1857 1493.39L1861 1494.03L1865 1494.77L1869 1495.6L1873 1496.5L1877 1497.45L1878.4 1497.8L1882.4 1506.46L1886.4 1514.99L1890.4 1523.4L1893.3 1529.4L1894.4 1531.63L1898.4 1539.3L1902.4 1546.74L1906.4 1554.55L1910.4 1563.31L1910.9 1564.5L1914.4 1574.29L1916.4 1580L1918.4 1585.26L1922.4 1595.36L1926.4 1605.14L1930.4 1614.91L1934.4 1624.98L1934.6 1625.5L1938.4 1635.21L1942.4 1645.38L1946.4 1655.88L1950.4 1667.13L1952.9 1674.7L1954.4 1679.49L1958.4 1693.32L1962 1707.5L1962.4 1709.2L1966.4 1728.2L1970.4 1749.67L1971 1753L1974.4 1772.95L1978.4 1798.6L1982.4 1826L1984.7 1844L1986.4 1858.11L1989.3 1889.7L1990.4 1913.17L1991 1926L1994.4 1978.29L1995.5 1990" fill="none" stroke="#808080" stroke-width="4.6" stroke-dasharray="17.3 7.5" stroke-dashoffset="-2.37" stroke-opacity="0.9" stroke-linejoin="miter"/>
<path d="M395.29 2185.7L395.29 2185.7L423.87 2189.71L423.87 2189.71L452.44 2157.43L481.02 2123.2L509.59 2084.28L538.17 2060.94L538.17 2060.94L566.74 2042.2L566.74 2042.2L595.32 2024.51L595.32 2024.51L623.89 2008.01L623.89 2008.01L652.47 1995.3L652.47 1995.3L681.05 1987.8L681.05 1987.8L709.62 1982.43L738.2 1977.3L766.77 1971.49L795.35 1965.02L795.35 1965.02L823.92 1957.5L852.5 1948.57L881.07 1937.9L881.07 1937.9L909.65 1924.6L938.22 1907.37L966.8 1888.16L966.8 1888.16L995.38 1869.7L1023.95 1856.32L1052.53 1845.07L1052.53 1845.07L1081.1 1833.6L1109.68 1819.92L1138.25 1803.69L1166.83 1784.9L1166.83 1784.9L1195.4 1763.78L1223.98 1742.8L1223.98 1742.8L1252.55 1723.4L1281.13 1704.84L1309.71 1686.6L1309.71 1686.6L1338.28 1669.7L1338.28 1669.7L1366.86 1657.04L1366.86 1657.04L1395.43 1649.71L1424.01 1645.3L1452.58 1640.26L1481.16 1631.75L1481.16 1631.75L1509.73 1618.6L1538.31 1603.36L1538.31 1603.36L1566.88 1587.82L1595.46 1572L1624.04 1555.74L1624.04 1555.74L1652.61 1538.95L1681.19 1521.7L1709.76 1504.32L1738.34 1486.01L1738.34 1486.01L1766.91 1467.8L1766.91 1467.8L1795.49 1450.5L1795.49 1450.5L1824.06 1435.09L1852.64 1423.6L1881.22 1413.65L1909.79 1451.86L1909.79 1451.86L1938.37 1517.9L1966.94 1591.04L1995.5 1731.2" fill="none" stroke="#1764ab" stroke-width="4.6" stroke-opacity="0.88" stroke-linejoin="round"/>
<g fill="#1764ab" fill-opacity="0.82" fill-rule="evenodd"><use href="#md" x="395.29" y="2185.7"/><use href="#md" x="481.02" y="2123.2"/><use href="#md" x="566.74" y="2042.2"/><use href="#md" x="652.47" y="1995.3"/><use href="#md" x="738.2" y="1977.3"/><use href="#md" x="823.92" y="1957.5"/><use href="#md" x="909.65" y="1924.6"/><use href="#md" x="995.38" y="1869.7"/><use href="#md" x="1081.1" y="1833.6"/><use href="#md" x="1166.83" y="1784.9"/><use href="#md" x="1252.55" y="1723.4"/><use href="#md" x="1338.28" y="1669.7"/><use href="#md" x="1424.01" y="1645.3"/><use href="#md" x="1509.73" y="1618.6"/><use href="#md" x="1595.46" y="1572"/><use href="#md" x="1681.19" y="1521.7"/><use href="#md" x="1766.91" y="1467.8"/><use href="#md" x="1852.64" y="1423.6"/><use href="#md" x="1938.37" y="1517.9"/></g></g>
<path d="M532.45 2197.4v33.3M898.22 2197.4v33.3M1263.98 2197.4v33.3M1629.75 2197.4v33.3M1995.52 2197.4v33.3M349.57 1499.4h-33.3M349.57 1673.9h-33.3M349.57 1848.4h-33.3M349.57 2022.9h-33.3" stroke="#000" stroke-width="7.5" fill="none"/>
<rect x="349.57" y="1368.6" width="1645.93" height="828.8" fill="none" stroke="#000" stroke-width="7.5"/>
<g clip-path="url(#cb)"><path d="M423.87 2190L423.87 2190L452.44 2156.75L481.02 2121.55L509.59 2082.9L538.17 2059.77L538.17 2059.77L566.74 2041.25L566.74 2041.25L595.32 2024.3L595.32 2024.3L623.89 2008.53L623.89 2008.53L652.47 1996.55L652.47 1996.55L681.05 1988.6L681.05 1988.6L709.62 1982.93L738.2 1977.51L766.77 1971.7L795.35 1965.1L795.35 1965.1L823.92 1957.45L852.5 1948.4L881.07 1937.64L881.07 1937.64L909.65 1924.25L938.22 1908L966.8 1889.56L966.8 1889.56L995.38 1871.87L1023.95 1857.6L1052.53 1846L1052.53 1846L1081.1 1834.17L1109.68 1820.7L1138.25 1804.01L1166.83 1784.76L1166.83 1784.76L1195.4 1763.6L1223.98 1742.92L1223.98 1742.92L1252.55 1723.81L1281.13 1705.5L1309.71 1686.71L1309.71 1686.71L1338.28 1669.26L1338.28 1669.26L1366.86 1655.6L1366.86 1655.6L1395.43 1648.95L1424.01 1645.22L1452.58 1641.1L1481.16 1632.45L1481.16 1632.45L1509.73 1619.15L1538.31 1603.7L1538.31 1603.7L1566.88 1588.15L1595.46 1572.31L1624.04 1556.1L1624.04 1556.1L1652.61 1539.52L1681.19 1522.48L1709.76 1505L1738.34 1486.06L1738.34 1486.06L1766.91 1467.22L1766.91 1467.22L1795.49 1449.4L1795.49 1449.4L1824.06 1434.35L1852.64 1423.23L1881.22 1414.6L1909.79 1453.6L1909.79 1453.6L1938.37 1520.43L1966.94 1592.3L1995.5 1731.2" fill="none" stroke="#4a98c9" stroke-width="4.6" stroke-opacity="0.88" stroke-linejoin="round"/>
<g fill="#4a98c9" fill-opacity="0.82" fill-rule="evenodd"><use href="#mt" x="423.87" y="2190"/><use href="#mt" x="509.59" y="2082.9"/><use href="#mt" x="595.32" y="2024.3"/><use href="#mt" x="681.05" y="1988.6"/><use href="#mt" x="766.77" y="1971.7"/><use href="#mt" x="852.5" y="1948.4"/><use href="#mt" x="938.22" y="1908"/><use href="#mt" x="1023.95" y="1857.6"/><use href="#mt" x="1109.68" y="1820.7"/><use href="#mt" x="1195.4" y="1763.6"/><use href="#mt" x="1281.13" y="1705.5"/><use href="#mt" x="1366.86" y="1655.6"/><use href="#mt" x="1452.58" y="1641.1"/><use href="#mt" x="1538.31" y="1603.7"/><use href="#mt" x="1624.04" y="1556.1"/><use href="#mt" x="1709.76" y="1505"/><use href="#mt" x="1795.49" y="1449.4"/><use href="#mt" x="1881.22" y="1414.6"/><use href="#mt" x="1966.94" y="1592.3"/></g>
<path d="M345.3 2184.4L359.57 2183.7L359.57 2183.7L373.86 2183L373.86 2183L373.9 2183L388.15 2183L388.2 2183L402.43 2183L402.5 2183L416.72 2177.03L416.8 2177L431 2161.2L431.01 2161.19L445.3 2147L445.3 2147L445.3 2147L459.59 2129.62L459.6 2129.6L473.87 2112.77L488.16 2095.48L502.45 2079.04L516.74 2064.75L516.74 2064.75L531.02 2053.58L545.31 2046.6L545.31 2046.6L559.6 2038.1L573.89 2029.42L588.18 2020.69L602.46 2012.05L616.75 2003.56L631.04 1996.8L645.33 1992.72L659.61 1989.21L673.9 1986.04L688.19 1982.99L702.48 1980.13L702.48 1980.13L716.76 1977.3L731.05 1974.17L745.34 1971.05L759.63 1967.93L773.92 1964.77L773.92 1964.77L788.2 1961.56L802.49 1957.8L816.78 1953.59L831.07 1949.13L845.35 1944.41L859.64 1939.39L873.93 1933.77L888.22 1926.6L902.51 1918.38L916.79 1909.77L931.08 1900.86L945.37 1891.71L945.37 1891.71L959.66 1882.1L973.94 1873L973.94 1873L988.23 1865.49L1002.52 1858.44L1016.81 1851.68L1031.09 1845.02L1031.09 1845.02L1045.38 1838.53L1059.67 1831.8L1073.96 1824.51L1088.25 1817.06L1102.53 1809.38L1116.82 1801.42L1131.11 1792.9L1145.4 1783.2L1159.68 1772.97L1173.97 1762.5L1188.26 1751.97L1202.55 1741.55L1202.55 1741.55L1216.84 1731.32L1231.12 1721.6L1245.41 1712.21L1259.7 1702.92L1273.99 1693.77L1288.27 1684.77L1302.56 1676.07L1316.85 1667.2L1331.14 1655.56L1345 1648.2L1345.43 1648.17L1359.71 1647.4L1374 1646.91L1388.29 1646.3L1388.29 1646.3L1402.58 1645.5L1402.58 1645.5L1416.86 1644.5L1431.15 1643.21L1445.44 1641.48L1459.73 1639.15L1474.01 1634.41L1488.3 1626.8L1502.59 1618.92L1516.88 1610.88L1531.17 1602.77L1545.45 1594.67L1559.74 1586.6L1574.03 1578.2L1588.32 1569.4L1602.6 1560.46L1616.89 1551.48L1631.18 1542.59L1645.47 1533.85L1645.47 1533.85L1659.76 1525.4L1659.76 1525.4L1674.04 1517.05L1688.33 1508.75L1702.62 1500.47L1716.91 1492.16L1731.19 1483.81L1745.48 1475.5L1759.77 1466.39L1774.06 1457.14L1788.34 1448.43L1802.63 1440.94L1816.92 1435.14L1816.92 1435.14L1831.2 1434.4L1831.21 1434.4L1845.5 1431.37L1859.78 1428.35L1860 1428.3L1874 1436L1874.07 1436.13L1888.36 1462.34L1888.36 1462.34L1902.65 1488.55L1916.9 1514.7L1916.93 1514.7L1931.22 1554.52L1945.51 1597.61L1959.8 1646.18L1974.09 1702.4L1988.36 1778" fill="none" stroke="#bd0026" stroke-width="4.6" stroke-opacity="0.88" stroke-linejoin="round"/>
<path d="M345.3 2184.4L359.57 2183L359.57 2183L359.6 2183L373.86 2183L373.86 2183L388.15 2183L388.2 2183L402.43 2183L402.5 2183L416.72 2177.03L416.8 2177L431 2161.2L431.01 2161.19L445.3 2147L445.3 2147L445.3 2147L459.59 2130.02L473.87 2112.33L488.16 2094.19L502.45 2076.88L516.74 2061.74L516.74 2061.74L531.02 2049.7L545.31 2042.92L545.31 2042.92L559.6 2035.85L573.89 2028.59L588.18 2021.29L602.46 2014.07L616.75 2007L631.04 2000.88L645.33 1996.12L659.61 1991.93L673.9 1988.08L688.19 1984.34L702.48 1980.8L702.48 1980.8L716.76 1977.41L731.05 1974.04L745.34 1970.69L759.63 1967.34L773.92 1963.95L773.92 1963.95L788.2 1960.5L802.49 1956.55L816.78 1952.21L831.07 1947.63L845.35 1942.79L859.64 1937.65L873.93 1931.9L888.22 1924.67L902.51 1916.81L916.79 1908.57L931.08 1900.02L945.37 1891.24L945.37 1891.24L959.66 1882L973.94 1873.2L973.94 1873.2L988.23 1865.36L1002.52 1857.99L1016.81 1850.91L1031.09 1843.91L1031.09 1843.91L1045.38 1837.1L1059.67 1830.05L1073.96 1822.72L1088.25 1815.21L1102.53 1807.48L1116.82 1799.46L1131.11 1790.9L1145.4 1781.12L1159.68 1770.93L1173.97 1760.49L1188.26 1749.99L1202.55 1739.6L1202.55 1739.6L1216.84 1729.4L1231.12 1719.86L1245.41 1710.51L1259.7 1701.25L1273.99 1692.13L1288.27 1683.17L1302.56 1674.5L1316.85 1665.56L1331.14 1653.89L1345 1646.5L1345.43 1646.46L1359.71 1645.66L1374 1645.14L1388.29 1644.5L1388.29 1644.5L1402.58 1643.7L1402.58 1643.7L1416.86 1642.6L1431.15 1641.21L1445.44 1639.37L1459.73 1636.94L1474.01 1632.1L1488.3 1624.35L1502.59 1616.34L1516.88 1608.17L1531.17 1599.93L1545.45 1591.7L1559.74 1583.5L1574.03 1574.96L1588.32 1566.16L1602.6 1557.21L1616.89 1548.24L1631.18 1539.35L1645.47 1530.6L1645.47 1530.6L1659.76 1522.19L1659.76 1522.19L1674.04 1513.88L1688.33 1505.62L1702.62 1497.37L1716.91 1489.11L1731.19 1480.8L1745.48 1472.17L1759.77 1463.38L1774.06 1454.45L1788.34 1446.06L1802.63 1438.88L1816.9 1433.4L1816.92 1433.4L1816.92 1433.4L1831.21 1430.79L1845.5 1428.19L1859.78 1425.59L1874 1423L1874.07 1423.14L1888.36 1451.52L1888.36 1451.52L1902.6 1479.8L1902.65 1479.8L1916.93 1514.71L1931.22 1554.51L1945.51 1597.59L1959.8 1646.14L1974.09 1702.34L1988.36 1777.93L1988.37 1778" fill="none" stroke="#fc4e2a" stroke-width="4.6" stroke-opacity="0.88" stroke-linejoin="round"/>
<g fill="#fc4e2a" fill-opacity="0.82" fill-rule="evenodd"><use href="#mt" x="359.57" y="2183"/><use href="#mt" x="445.3" y="2147"/><use href="#mt" x="531.02" y="2049.7"/><use href="#mt" x="616.75" y="2007"/><use href="#mt" x="702.48" y="1980.8"/><use href="#mt" x="788.2" y="1960.5"/><use href="#mt" x="873.93" y="1931.9"/><use href="#mt" x="959.66" y="1882"/><use href="#mt" x="1045.38" y="1837.1"/><use href="#mt" x="1131.11" y="1790.9"/><use href="#mt" x="1216.84" y="1729.4"/><use href="#mt" x="1302.56" y="1674.5"/><use href="#mt" x="1388.29" y="1644.5"/><use href="#mt" x="1474.01" y="1632.1"/><use href="#mt" x="1559.74" y="1583.5"/><use href="#mt" x="1645.47" y="1530.6"/><use href="#mt" x="1731.19" y="1480.8"/><use href="#mt" x="1816.92" y="1433.4"/><use href="#mt" x="1902.65" y="1479.8"/><use href="#mt" x="1988.37" y="1778"/></g>
<g fill="#bd0026" fill-opacity="0.82" fill-rule="evenodd"><use href="#md" x="373.86" y="2183"/><use href="#md" x="459.59" y="2129.6"/><use href="#md" x="545.31" y="2046.6"/><use href="#md" x="631.04" y="1996.8"/><use href="#md" x="716.76" y="1977.3"/><use href="#md" x="802.49" y="1957.8"/><use href="#md" x="888.22" y="1926.6"/><use href="#md" x="973.94" y="1873"/><use href="#md" x="1059.67" y="1831.8"/><use href="#md" x="1145.4" y="1783.2"/><use href="#md" x="1231.12" y="1721.6"/><use href="#md" x="1316.85" y="1667.2"/><use href="#md" x="1402.58" y="1645.5"/><use href="#md" x="1488.3" y="1626.8"/><use href="#md" x="1574.03" y="1578.2"/><use href="#md" x="1659.76" y="1525.4"/><use href="#md" x="1745.48" y="1475.5"/><use href="#md" x="1831.21" y="1434.4"/><use href="#md" x="1916.93" y="1514.7"/></g>
<path d="M338.14 2186L366.7 2185.8L366.72 2185.8L366.72 2185.8L395.29 2185L395.29 2185L395.3 2185L423.8 2184.2L423.87 2184.14L423.87 2184.14L452.4 2156.9L452.44 2156.9L481.02 2120.74L509.59 2081.13L538.17 2057.1L538.17 2057.1L566.74 2039.05L566.74 2039.05L595.32 2022.58L595.32 2022.58L623.89 2007.3L623.89 2007.3L652.47 1996.01L652.47 1996.01L681.05 1988.75L681.05 1988.75L709.62 1983.6L738.2 1978.38L766.77 1972.76L795.35 1966.5L795.35 1966.5L823.92 1959.21L852.5 1950.53L881.07 1940.1L881.07 1940.1L909.65 1926.71L938.22 1910.45L966.8 1892.2L966.8 1892.2L995.38 1874.64L1023.95 1860.5L1052.53 1848.5L1052.53 1848.5L1081.1 1836.48L1109.68 1822.82L1138.25 1806.6L1166.83 1787.33L1166.83 1787.33L1195.4 1766.14L1223.98 1745.1L1223.98 1745.1L1252.55 1726.23L1281.13 1708.15L1309.71 1690.4L1309.71 1690.4L1338.28 1673.8L1338.28 1673.8L1366.86 1660.99L1366.86 1660.99L1395.43 1653.5L1424.01 1649.69L1452.58 1645.48L1481.16 1637.8L1481.16 1637.8L1509.73 1624.03L1538.31 1608.12L1538.31 1608.12L1566.88 1591.9L1595.46 1576.16L1624.04 1560.05L1624.04 1560.05L1652.61 1543.4L1681.19 1526.1L1709.76 1508.36L1738.34 1489.7L1738.34 1489.7L1766.91 1470.29L1766.91 1470.29L1795.49 1451.9L1795.49 1451.9L1824.06 1435.4L1852.64 1423.75L1881.22 1414.59L1909.79 1453.6L1909.79 1453.6L1938.37 1520.43L1966.94 1592.3L1995.5 1731.2L1995.52 1731.2" fill="none" stroke="#abd0e6" stroke-width="4.6" stroke-opacity="0.88" stroke-linejoin="round"/>
<g fill="#abd0e6" fill-opacity="0.82" fill-rule="evenodd"><use href="#mo" x="366.72" y="2185.8"/><use href="#mo" x="452.44" y="2156.9"/><use href="#mo" x="538.17" y="2057.1"/><use href="#mo" x="623.89" y="2007.3"/><use href="#mo" x="709.62" y="1983.6"/><use href="#mo" x="795.35" y="1966.5"/><use href="#mo" x="881.07" y="1940.1"/><use href="#mo" x="966.8" y="1892.2"/><use href="#mo" x="1052.53" y="1848.5"/><use href="#mo" x="1138.25" y="1806.6"/><use href="#mo" x="1223.98" y="1745.1"/><use href="#mo" x="1309.71" y="1690.4"/><use href="#mo" x="1395.43" y="1653.5"/><use href="#mo" x="1481.16" y="1637.8"/><use href="#mo" x="1566.88" y="1591.9"/><use href="#mo" x="1652.61" y="1543.4"/><use href="#mo" x="1738.34" y="1489.7"/><use href="#mo" x="1824.06" y="1435.4"/><use href="#mo" x="1909.79" y="1453.6"/><use href="#mo" x="1995.52" y="1731.2"/></g>
<path d="M345.28 2184.4L345.28 2184.4L345.3 2184.4L359.57 2184.1L359.57 2184.1L373.86 2183.8L373.86 2183.8L373.9 2183.8L388.15 2183.4L388.2 2183.4L402.43 2183L402.5 2183L416.72 2177.03L416.8 2177L431 2161.2L431.01 2161.2L445.3 2146.29L445.3 2146.29L459.59 2129.28L473.87 2111.57L488.16 2093.4L502.45 2076.07L516.74 2060.9L516.74 2060.9L531.02 2049.49L545.31 2042.28L545.31 2042.28L559.6 2034.77L573.89 2027.08L588.18 2019.35L602.46 2011.7L616.75 2004.25L631.04 1998.53L645.33 1994.17L659.61 1990.38L673.9 1986.93L688.19 1983.6L702.48 1980.26L702.48 1980.26L716.76 1976.95L731.05 1973.66L745.34 1970.39L759.63 1967.11L773.92 1963.8L773.92 1963.8L788.2 1960.52L802.49 1956.7L816.78 1952.49L831.07 1948.03L845.35 1943.31L859.64 1938.3L873.93 1932.52L888.22 1925.2L902.51 1917.24L916.79 1908.91L931.08 1900.27L945.37 1891.4L945.37 1891.4L959.66 1882.01L973.94 1873.13L973.94 1873.13L988.23 1865.2L1002.52 1857.75L1016.81 1850.58L1031.09 1843.5L1031.09 1843.5L1045.38 1836.84L1059.67 1829.94L1073.96 1822.73L1088.25 1815.37L1102.53 1807.77L1116.82 1799.9L1131.11 1791.25L1145.4 1781.4L1159.68 1771.13L1173.97 1760.63L1188.26 1750.06L1202.55 1739.6L1202.55 1739.6L1216.84 1729.36L1231.12 1719.63L1245.41 1710.09L1259.7 1700.65L1273.99 1691.34L1288.27 1682.2L1302.56 1673.42L1316.85 1664.47L1331.14 1652.78L1345 1645.38L1345.43 1645.34L1359.71 1644.53L1374 1644L1388.29 1643.52L1388.29 1643.52L1402.58 1642.85L1402.58 1642.85L1416.86 1641.87L1431.15 1640.61L1445.44 1638.9L1459.73 1636.6L1474.01 1631.15L1488.3 1622.83L1502.59 1614.24L1516.88 1605.5L1531.17 1596.69L1545.45 1587.9L1559.74 1579.66L1574.03 1571.09L1588.32 1562.27L1602.6 1553.31L1616.89 1544.31L1631.18 1535.4L1645.47 1526.69L1645.47 1526.69L1659.76 1518.28L1659.76 1518.28L1674.04 1509.97L1688.33 1501.71L1702.62 1493.47L1716.91 1485.2L1731.19 1476.79L1745.48 1468.41L1759.77 1459.86L1774.06 1451.17L1788.34 1443.03L1802.6 1436.1L1802.63 1436.09L1816.92 1432.63L1816.92 1432.63L1831.21 1429.16L1845.5 1425.69L1859.78 1422.23L1859.9 1422.2L1874.07 1433.48L1888.3 1444.8L1888.36 1444.8L1888.36 1444.8L1902.65 1479.78L1916.93 1514.7L1931.22 1554.52L1945.51 1597.61L1959.8 1646.18L1974.09 1702.4L1988.36 1778" fill="none" stroke="#fd8d3c" stroke-width="4.6" stroke-opacity="0.88" stroke-linejoin="round"/>
<g fill="#fd8d3c" fill-opacity="0.82" fill-rule="evenodd"><use href="#mo" x="345.28" y="2184.4"/><use href="#mo" x="431.01" y="2161.2"/><use href="#mo" x="516.74" y="2060.9"/><use href="#mo" x="602.46" y="2011.7"/><use href="#mo" x="688.19" y="1983.6"/><use href="#mo" x="773.92" y="1963.8"/><use href="#mo" x="859.64" y="1938.3"/><use href="#mo" x="945.37" y="1891.4"/><use href="#mo" x="1031.09" y="1843.5"/><use href="#mo" x="1116.82" y="1799.9"/><use href="#mo" x="1202.55" y="1739.6"/><use href="#mo" x="1288.27" y="1682.2"/><use href="#mo" x="1374" y="1644"/><use href="#mo" x="1459.73" y="1636.6"/><use href="#mo" x="1545.45" y="1587.9"/><use href="#mo" x="1631.18" y="1535.4"/><use href="#mo" x="1716.91" y="1485.2"/><use href="#mo" x="1802.63" y="1436.1"/><use href="#mo" x="1888.36" y="1444.8"/><use href="#mo" x="1974.09" y="1702.4"/></g></g>
<text transform="translate(0 571.42) scale(0.7550 0.6640)" x="195.2 246.77 273.87 324.67" y="0" font-family="'Liberation Serif','DejaVu Serif',serif" font-size="100">0.08</text>
<text transform="translate(0 836.86) scale(0.7550 0.6640)" x="195.2 246.77 273.87 323.82" y="0" font-family="'Liberation Serif','DejaVu Serif',serif" font-size="100">0.04</text>
<text transform="translate(0 1102.3) scale(0.7550 0.6640)" x="195.2 246.77 273.87 324.07" y="0" font-family="'Liberation Serif','DejaVu Serif',serif" font-size="100">0.00</text>
<text transform="translate(0 1522.7) scale(0.7550 0.6640)" x="245.4 296.97 324.67" y="0" font-family="'Liberation Serif','DejaVu Serif',serif" font-size="100">0.8</text>
<text transform="translate(0 1697.2) scale(0.7550 0.6640)" x="245.4 296.97 322.59" y="0" font-family="'Liberation Serif','DejaVu Serif',serif" font-size="100">0.6</text>
<text transform="translate(0 1871.7) scale(0.7550 0.6640)" x="245.4 296.97 323.82" y="0" font-family="'Liberation Serif','DejaVu Serif',serif" font-size="100">0.4</text>
<text transform="translate(0 2046.2) scale(0.7550 0.6640)" x="245.4 296.97 324.37" y="0" font-family="'Liberation Serif','DejaVu Serif',serif" font-size="100">0.2</text>
<text transform="translate(0 2311) scale(0.7550 0.6640)" x="640.9 692.47 719.87" y="0" font-family="'Liberation Serif','DejaVu Serif',serif" font-size="100">0.2</text>
<text transform="translate(0 2311) scale(0.7550 0.6640)" x="1125.36 1176.93 1203.78" y="0" font-family="'Liberation Serif','DejaVu Serif',serif" font-size="100">0.4</text>
<text transform="translate(0 2311) scale(0.7550 0.6640)" x="1609.81 1661.39 1687.01" y="0" font-family="'Liberation Serif','DejaVu Serif',serif" font-size="100">0.6</text>
<text transform="translate(0 2311) scale(0.7550 0.6640)" x="2094.27 2145.85 2173.54" y="0" font-family="'Liberation Serif','DejaVu Serif',serif" font-size="100">0.8</text>
<text transform="translate(0 2311) scale(0.7550 0.6640)" x="2577.03 2630.3 2657.41" y="0" font-family="'Liberation Serif','DejaVu Serif',serif" font-size="100">1.0</text>
<text transform="translate(1105.25 2412.13) scale(0.8886 0.6581)" font-family="'Liberation Serif','DejaVu Serif',serif" font-size="100" font-style="italic">r</text>
<text transform="translate(1147.8 2426.2) scale(1.0691 1.0000)" font-family="'Liberation Serif','DejaVu Serif',serif" font-size="100">/</text>
<text transform="translate(1187.33 2411.3) scale(0.8667 0.7138)" font-family="'Liberation Serif','DejaVu Serif',serif" font-size="100" font-style="italic">R</text>
<g transform="translate(77.3 1016.4) rotate(-90)">
<text transform="translate(0.4 0.35) scale(0.8064 0.7077)" font-family="'Liberation Serif','DejaVu Serif',serif" font-size="100" font-style="italic">F</text>
<text transform="translate(44.53 9.35) scale(0.7480 0.5474)" font-family="'Liberation Serif','DejaVu Serif',serif" font-size="100" font-style="italic">t</text>
<text transform="translate(80.2 15.1) scale(1.0582 1.0015)" font-family="'Liberation Serif','DejaVu Serif',serif" font-size="100">/</text>
<text transform="translate(118.24 0.56) scale(0.7020 0.7400)" font-family="'Liberation Serif','DejaVu Serif',serif" font-size="100">(</text>
<text transform="translate(149.11 0.11) scale(0.7221 0.6471)" font-family="'Liberation Serif','DejaVu Serif',serif" font-size="100" font-style="italic">ρ</text>
<text transform="translate(194.46 -0.16) scale(0.9277 0.6553)" font-family="'Liberation Serif','DejaVu Serif',serif" font-size="100" font-style="italic">u</text>
<text transform="translate(242.16 -28.9) scale(0.6100 0.4864)" font-family="'Liberation Serif','DejaVu Serif',serif" font-size="100">2</text>
<text transform="translate(242.2 19.01) scale(0.6000 0.4904)" font-family="'Liberation Serif','DejaVu Serif',serif" font-size="100">0</text>
<text transform="translate(296.83 0.3) scale(0.8550 0.7123)" font-family="'Liberation Serif','DejaVu Serif',serif" font-size="100" font-style="italic">R</text>
<text transform="translate(351.36 0.56) scale(0.6808 0.7400)" font-family="'Liberation Serif','DejaVu Serif',serif" font-size="100">)</text>
</g>
<g transform="translate(114.7 1976.7) rotate(-90)">
<text transform="translate(0.4 0.35) scale(0.8064 0.7077)" font-family="'Liberation Serif','DejaVu Serif',serif" font-size="100" font-style="italic">F</text>
<text transform="translate(45.24 10.55) scale(0.7882 0.4968)" font-family="'Liberation Serif','DejaVu Serif',serif" font-size="100" font-style="italic">n</text>
<text transform="translate(95 15.1) scale(1.0582 1.0015)" font-family="'Liberation Serif','DejaVu Serif',serif" font-size="100">/</text>
<text transform="translate(133.04 0.56) scale(0.7020 0.7400)" font-family="'Liberation Serif','DejaVu Serif',serif" font-size="100">(</text>
<text transform="translate(163.91 0.11) scale(0.7221 0.6471)" font-family="'Liberation Serif','DejaVu Serif',serif" font-size="100" font-style="italic">ρ</text>
<text transform="translate(209.26 -0.16) scale(0.9277 0.6553)" font-family="'Liberation Serif','DejaVu Serif',serif" font-size="100" font-style="italic">u</text>
<text transform="translate(256.95 -28.9) scale(0.6100 0.4864)" font-family="'Liberation Serif','DejaVu Serif',serif" font-size="100">2</text>
<text transform="translate(257 19.01) scale(0.6000 0.4904)" font-family="'Liberation Serif','DejaVu Serif',serif" font-size="100">0</text>
<text transform="translate(311.63 0.3) scale(0.8550 0.7123)" font-family="'Liberation Serif','DejaVu Serif',serif" font-size="100" font-style="italic">R</text>
<text transform="translate(366.16 0.56) scale(0.6808 0.7400)" font-family="'Liberation Serif','DejaVu Serif',serif" font-size="100">)</text>
</g>
<text transform="translate(0 405) scale(0.8000 0.8500)" x="30.62 65.56 131.19" y="0" font-family="'Liberation Sans','DejaVu Sans',sans-serif" font-size="100">(a)</text>
<text transform="translate(0 1377) scale(0.8000 0.8500)" x="34.44 72.31 135.25" y="0" font-family="'Liberation Sans','DejaVu Sans',sans-serif" font-size="100">(b)</text>
</svg>
</body></html>
